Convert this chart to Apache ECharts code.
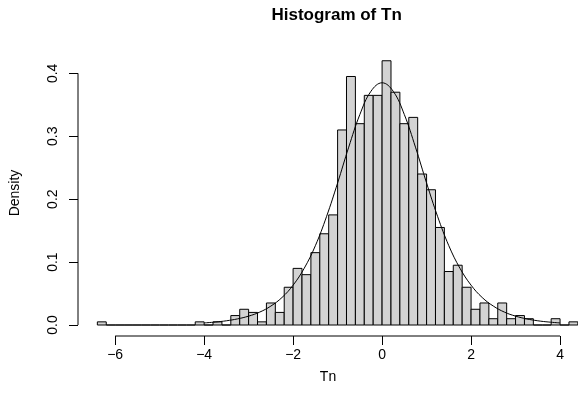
<!DOCTYPE html>
<html>
<head>
<meta charset="utf-8">
<script src="https://cdn.jsdelivr.net/npm/echarts@6/dist/echarts.min.js"></script>
<style>
  html, body { margin: 0; padding: 0; background: #fff; }
  #chart { width: 578px; height: 406px; }
</style>
</head>
<body>
<div id="chart"></div>
<script>
// Histogram breaks (bin width 0.2)
const breaks = [-6.4,-6.2,-6.0,-5.8,-5.6,-5.4,-5.2,-5.0,-4.8,-4.6,-4.4,-4.2,-4.0,-3.8,-3.6,-3.4,-3.2,-3.0,-2.8,-2.6,-2.4,-2.2,-2.0,-1.8,-1.6,-1.4,-1.2,-1.0,-0.8,-0.6,-0.4,-0.2,0.0,0.2,0.4,0.6,0.8,1.0,1.2,1.4,1.6,1.8,2.0,2.2,2.4,2.6,2.8,3.0,3.2,3.4,3.6,3.8,4.0,4.2,4.4];
// Density of each bin
const density = [0.005,0,0,0,0,0,0,0,0,0,0,0.005,0,0.005,0,0.015,0.025,0.02,0.005,0.035,0.02,0.06,0.09,0.08,0.115,0.145,0.175,0.31,0.395,0.32,0.365,0.365,0.42,0.37,0.32,0.33,0.24,0.215,0.155,0.085,0.095,0.06,0.025,0.035,0.01,0.035,0.01,0.015,0.01,0,0,0.01,0,0.005];
// Density curve
const curveX = [-4,-3.75,-3.5,-3.25,-3,-2.75,-2.5,-2.25,-2,-1.75,-1.5,-1.25,-1,-0.75,-0.5,-0.25,0,0.25,0.5,0.75,1,1.25,1.5,1.75,2,2.25,2.5,2.75,3,3.25,3.5,3.75,4];
const curveY = [0.0033,0.0047,0.0067,0.0097,0.0141,0.0205,0.0301,0.0437,0.0633,0.0902,0.1260,0.1721,0.2257,0.2827,0.3345,0.3715,0.3850,0.3715,0.3345,0.2827,0.2257,0.1721,0.1260,0.0902,0.0633,0.0437,0.0301,0.0205,0.0141,0.0097,0.0067,0.0047,0.0033];
// Tick labels
const xTicks = [-6,-4,-2,0,2,4];
const yTicks = [0,0.1,0.2,0.3,0.4];

const X_MIN = -6.835, X_MAX = 4.4035;
const Y_MIN = -0.01748, Y_MAX = 0.4371;

const barData = density.map((d, i) => [breaks[i], breaks[i + 1], d]);
const curveData = curveX.map((x, i) => [x, curveY[i]]);
const xAxisLineData = [[xTicks[0], Y_MIN], [xTicks[xTicks.length - 1], Y_MIN]];
const yAxisLineData = [[X_MIN, yTicks[0]], [X_MIN, yTicks[yTicks.length - 1]]];

const FONT = 'Liberation Sans, Arial, Helvetica, sans-serif';
const chart = echarts.init(document.getElementById('chart'), null, { renderer: 'canvas' });

chart.setOption({
  animation: false,
  backgroundColor: '#ffffff',
  title: {
    text: 'Histogram of Tn',
    left: 336.6,
    top: 7,
    textAlign: 'center',
    padding: 0,
    textStyle: { fontFamily: FONT, fontSize: 17, fontWeight: 'bold', color: '#000' }
  },
  grid: { left: 76, right: 0, top: 50, bottom: 70, containLabel: false },
  xAxis: {
    type: 'value',
    min: X_MIN, max: X_MAX,
    name: 'Tn',
    nameLocation: 'middle',
    nameGap: 34,
    nameTextStyle: { fontFamily: FONT, fontSize: 14, color: '#000' },
    axisLine: { show: false, onZero: false },
    axisTick: { show: true, customValues: xTicks, length: 9, lineStyle: { color: '#000', width: 1 } },
    axisLabel: {
      show: true, customValues: xTicks, margin: 12,
      fontFamily: FONT, fontSize: 14, color: '#000',
      formatter: v => (v < 0 ? '\u2212' + Math.abs(v) : String(v))
    },
    splitLine: { show: false }
  },
  yAxis: {
    type: 'value',
    min: Y_MIN, max: Y_MAX,
    name: 'Density',
    nameLocation: 'middle',
    nameRotate: 90,
    nameGap: 56,
    nameTextStyle: { fontFamily: FONT, fontSize: 14, color: '#000' },
    axisLine: { show: false, onZero: false },
    axisTick: { show: true, customValues: yTicks, length: 9, lineStyle: { color: '#000', width: 1 } },
    axisLabel: {
      show: true, customValues: yTicks, margin: 18, rotate: 90,
      fontFamily: FONT, fontSize: 14, color: '#000',
      formatter: v => v.toFixed(1)
    },
    splitLine: { show: false }
  },
  series: [
    {
      type: 'custom',
      z: 2,
      silent: true,
      clip: false,
      data: barData,
      encode: { x: [0, 1], y: 2 },
      renderItem: function (params, api) {
        const top = api.coord([api.value(0), api.value(2)]);
        const bot = api.coord([api.value(1), 0]);
        return {
          type: 'rect',
          shape: { x: top[0], y: top[1], width: bot[0] - top[0], height: bot[1] - top[1] },
          style: { fill: '#d3d3d3', stroke: '#000', lineWidth: 1 }
        };
      }
    },
    {
      type: 'line',
      z: 3,
      silent: true,
      data: curveData,
      smooth: 0.4,
      showSymbol: false,
      symbol: 'none',
      lineStyle: { color: '#000', width: 1 }
    },
    {
      type: 'line', z: 3, silent: true, clip: false, data: xAxisLineData,
      symbol: 'none', lineStyle: { color: '#000', width: 1 }
    },
    {
      type: 'line', z: 3, silent: true, clip: false, data: yAxisLineData,
      symbol: 'none', lineStyle: { color: '#000', width: 1 }
    }
  ]
});
</script>
</body>
</html>
